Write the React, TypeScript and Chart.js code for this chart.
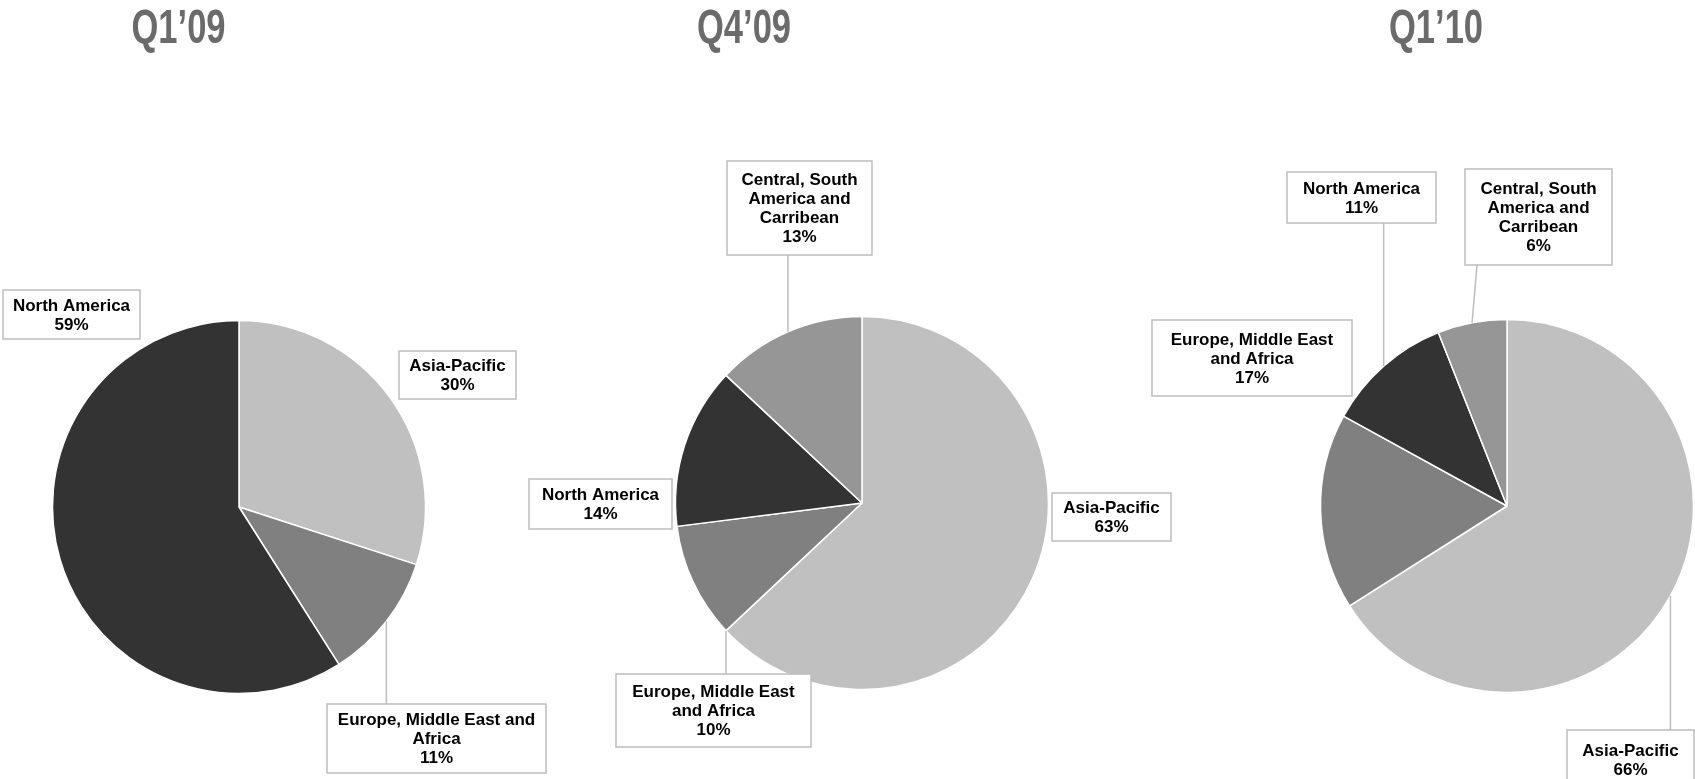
import React, { useEffect, useRef } from "react";
import { Chart, registerables } from "chart.js";

Chart.register(...registerables);

const W = 1695;
const H = 779;
const R = 186.5;

// ---------- data ----------
const titles = ["Q1’09", "Q4’09", "Q1’10"];

const q109Regions = ["Asia-Pacific", "Europe, Middle East and Africa", "North America"];
const q109Values = [30, 11, 59];

const q409Regions = [
  "Asia-Pacific",
  "Europe, Middle East and Africa",
  "North America",
  "Central, South America and Carribean",
];
const q409Values = [63, 10, 14, 13];

const q110Regions = [
  "Asia-Pacific",
  "Europe, Middle East and Africa",
  "North America",
  "Central, South America and Carribean",
];
const q110Values = [66, 17, 11, 6];

const regionColors: Record<string, string> = {
  "Asia-Pacific": "#c0c0c0",
  "Europe, Middle East and Africa": "#808080",
  "North America": "#333333",
  "Central, South America and Carribean": "#969696",
};

// ---------- layout ----------
type LabelBox = {
  x: number;
  y: number;
  w: number;
  h: number;
  leader?: "top" | "bottom";
  anchor?: "mid" | "start";
  leaderX?: number;
};

type PieSpec = {
  title: string;
  regions: string[];
  values: number[];
  cx: number;
  cy: number;
  titleX: number;
  boxes: LabelBox[];
};

const pies: PieSpec[] = [
  {
    title: titles[0],
    regions: q109Regions,
    values: q109Values,
    cx: 239,
    cy: 507,
    titleX: 178.5,
    boxes: [
      { x: 399, y: 351, w: 117, h: 48 },
      { x: 327, y: 704, w: 219, h: 69, leader: "top" },
      { x: 3, y: 290, w: 137, h: 49 },
    ],
  },
  {
    title: titles[1],
    regions: q409Regions,
    values: q409Values,
    cx: 862,
    cy: 503,
    titleX: 744,
    boxes: [
      { x: 1052, y: 493, w: 119, h: 48 },
      { x: 616, y: 674, w: 195, h: 73, leader: "top", anchor: "start" },
      { x: 529, y: 479, w: 143, h: 50 },
      { x: 727, y: 161, w: 145, h: 94, leader: "bottom" },
    ],
  },
  {
    title: titles[2],
    regions: q110Regions,
    values: q110Values,
    cx: 1507,
    cy: 506,
    titleX: 1436,
    boxes: [
      { x: 1567, y: 730, w: 127, h: 60, leader: "top" },
      { x: 1152, y: 320, w: 200, h: 76 },
      { x: 1287, y: 172, w: 149, h: 51, leader: "bottom" },
      { x: 1465, y: 169, w: 147, h: 96, leader: "bottom", leaderX: 1477 },
    ],
  },
];

const LABEL_FONT = "bold 17px 'Liberation Sans', Arial, sans-serif";
const TITLE_FONT = "bold 48px 'Liberation Sans', Arial, sans-serif";
const LINE_H = 19;

function wrapText(ctx: CanvasRenderingContext2D, text: string, maxW: number): string[] {
  const words = text.split(" ");
  const lines: string[] = [];
  let cur = "";
  for (const w of words) {
    const test = cur ? cur + " " + w : w;
    if (cur && ctx.measureText(test).width > maxW) {
      lines.push(cur);
      cur = w;
    } else {
      cur = test;
    }
  }
  if (cur) lines.push(cur);
  return lines;
}

function makeLabelPlugin(spec: PieSpec) {
  return {
    id: "pieLabels",
    afterDraw(chart: any) {
      const ctx: CanvasRenderingContext2D = chart.ctx;
      const meta = chart.getDatasetMeta(0);
      ctx.save();

      // title
      ctx.save();
      ctx.translate(spec.titleX, 43);
      ctx.scale(0.72, 1);
      ctx.font = TITLE_FONT;
      ctx.fillStyle = "#6b6b6b";
      ctx.textAlign = "center";
      ctx.textBaseline = "alphabetic";
      ctx.fillText(spec.title, 0, 0);
      ctx.restore();

      spec.boxes.forEach((b, i) => {
        const arc = meta.data[i] as any;
        if (!arc) return;
        // leader line
        if (b.leader) {
          const ang =
            b.anchor === "start" ? arc.startAngle : (arc.startAngle + arc.endAngle) / 2;
          const ax = arc.x + arc.outerRadius * Math.cos(ang);
          const ay = arc.y + arc.outerRadius * Math.sin(ang);
          const ex = b.leaderX ?? ax;
          const ey = b.leader === "top" ? b.y : b.y + b.h;
          ctx.beginPath();
          ctx.moveTo(ax, ay);
          ctx.lineTo(ex, ey);
          ctx.strokeStyle = "#bdbdbd";
          ctx.lineWidth = 1.5;
          ctx.stroke();
        }
        // box
        ctx.fillStyle = "#ffffff";
        ctx.fillRect(b.x, b.y, b.w, b.h);
        ctx.strokeStyle = "#bdbdbd";
        ctx.lineWidth = 1.5;
        ctx.strokeRect(b.x, b.y, b.w, b.h);
        // text
        ctx.font = LABEL_FONT;
        ctx.fillStyle = "#000000";
        ctx.textAlign = "center";
        ctx.textBaseline = "middle";
        const lines = wrapText(ctx, spec.regions[i], b.w - 16);
        lines.push(spec.values[i] + "%");
        const cxBox = b.x + b.w / 2;
        const cyBox = b.y + b.h / 2;
        const y0 = cyBox - ((lines.length - 1) * LINE_H) / 2;
        lines.forEach((ln, k) => ctx.fillText(ln, cxBox, y0 + k * LINE_H + 1));
      });
      ctx.restore();
    },
  };
}

function PieCanvas({ spec }: { spec: PieSpec }) {
  const ref = useRef<HTMLCanvasElement | null>(null);
  useEffect(() => {
    if (!ref.current) return;
    const chart = new Chart(ref.current, {
      type: "pie",
      data: {
        labels: spec.regions,
        datasets: [
          {
            data: spec.values,
            backgroundColor: spec.regions.map((r) => regionColors[r]),
            borderColor: "#ffffff",
            borderWidth: 1.5,
            hoverOffset: 0,
          },
        ],
      },
      options: {
        responsive: false,
        animation: false,
        events: [],
        radius: R,
        layout: {
          padding: {
            left: spec.cx - R,
            right: W - spec.cx - R,
            top: spec.cy - R,
            bottom: H - spec.cy - R,
          },
        },
        plugins: {
          legend: { display: false },
          tooltip: { enabled: false },
        },
      } as any,
      plugins: [makeLabelPlugin(spec)],
    });
    return () => chart.destroy();
  }, [spec]);
  return (
    <canvas
      ref={ref}
      width={W}
      height={H}
      style={{ position: "absolute", left: 0, top: 0, width: W, height: H }}
    />
  );
}

export default function App() {
  return (
    <div
      style={{
        position: "fixed",
        left: 0,
        top: 0,
        width: W,
        height: H,
        background: "#ffffff",
        overflow: "hidden",
      }}
    >
      {pies.map((p, i) => (
        <PieCanvas key={i} spec={p} />
      ))}
    </div>
  );
}
